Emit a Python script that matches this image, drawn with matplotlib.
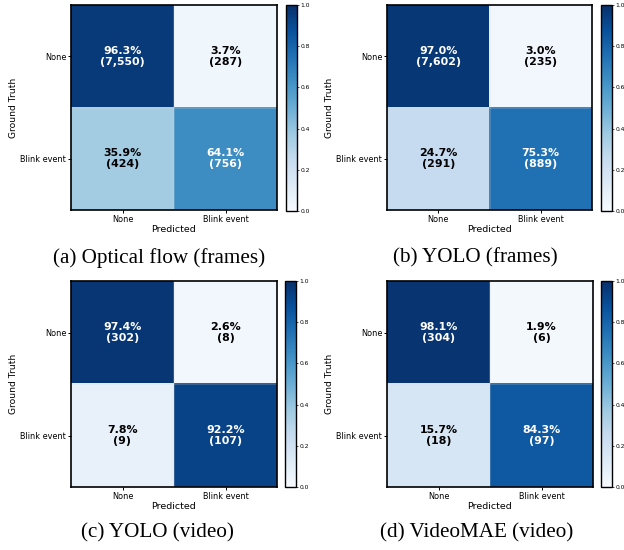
import numpy as np
import matplotlib
matplotlib.use("Agg")
import matplotlib.pyplot as plt

labels = ["None", "Blink event"]

titles = ["(a) Optical flow (frames)", "(b) YOLO (frames)",
          "(c) YOLO (video)", "(d) VideoMAE (video)"]

pct_a = [[96.3, 3.7], [35.9, 64.1]]
cnt_a = [[7550, 287], [424, 756]]
pct_b = [[97.0, 3.0], [24.7, 75.3]]
cnt_b = [[7602, 235], [291, 889]]
pct_c = [[97.4, 2.6], [7.8, 92.2]]
cnt_c = [[302, 8], [9, 107]]
pct_d = [[98.1, 1.9], [15.7, 84.3]]
cnt_d = [[304, 6], [18, 97]]

W, H = 624, 550
fig = plt.figure(figsize=(W / 100, H / 100), dpi=100)


def px_axes(x0, y0, x1, y1):
	# pixel box (top-left origin) -> figure fraction
	return fig.add_axes([x0 / W, 1 - y1 / H, (x1 - x0) / W, (y1 - y0) / H])


def draw_cm(box, cbox, pct, cnt, title, cap_xy):
	pct = np.array(pct)
	ax = px_axes(*box)
	im = ax.imshow(pct / 100.0, cmap="Blues", vmin=0, vmax=1, aspect="auto",
				   interpolation="nearest")
	for i in range(2):
		for j in range(2):
			color = "white" if pct[i, j] > 50 else "black"
			ax.text(j, i, f"{pct[i, j]:.1f}%\n({cnt[i][j]:,})", ha="center", va="center",
					color=color, fontsize=7.9, fontweight="bold", linespacing=1.1)
	ax.axhline(0.5, color="#d8d8d8", lw=0.3)
	ax.axvline(0.5, color="#d8d8d8", lw=0.3)
	ax.set_xticks([0, 1])
	ax.set_xticklabels(labels)
	ax.set_yticks([0, 1])
	ax.set_yticklabels(labels)
	ax.tick_params(labelsize=5.9, length=2.5, width=0.7, pad=1)
	ax.set_xlabel("Predicted", fontsize=6.8, labelpad=1)
	ax.set_ylabel("Ground Truth", fontsize=6.6, labelpad=1.5)
	for s in ax.spines.values():
		s.set_linewidth(1.2)

	cax = px_axes(*cbox)
	cb = fig.colorbar(im, cax=cax, ticks=[0, 0.2, 0.4, 0.6, 0.8, 1.0])
	cb.ax.tick_params(labelsize=4.3, length=1.5, width=0.5, pad=1)
	cb.outline.set_linewidth(1.0)

	fig.text(cap_xy[0] / W, 1 - cap_xy[1] / H, title, ha="center", va="center",
			 fontsize=15.2, family="Liberation Serif")


draw_cm((71, 5, 277, 210), (286, 5, 297, 211), pct_a, cnt_a, titles[0], (159, 258))
draw_cm((387, 5, 592, 210), (601, 5, 612, 211), pct_b, cnt_b, titles[1], (475, 258))
draw_cm((71, 281, 277, 487), (285, 281, 296, 487), pct_c, cnt_c, titles[2], (157, 533))
draw_cm((387, 281, 593, 487), (601, 281, 612, 487), pct_d, cnt_d, titles[3], (477, 533))

fig.savefig("out.png", dpi=100)
